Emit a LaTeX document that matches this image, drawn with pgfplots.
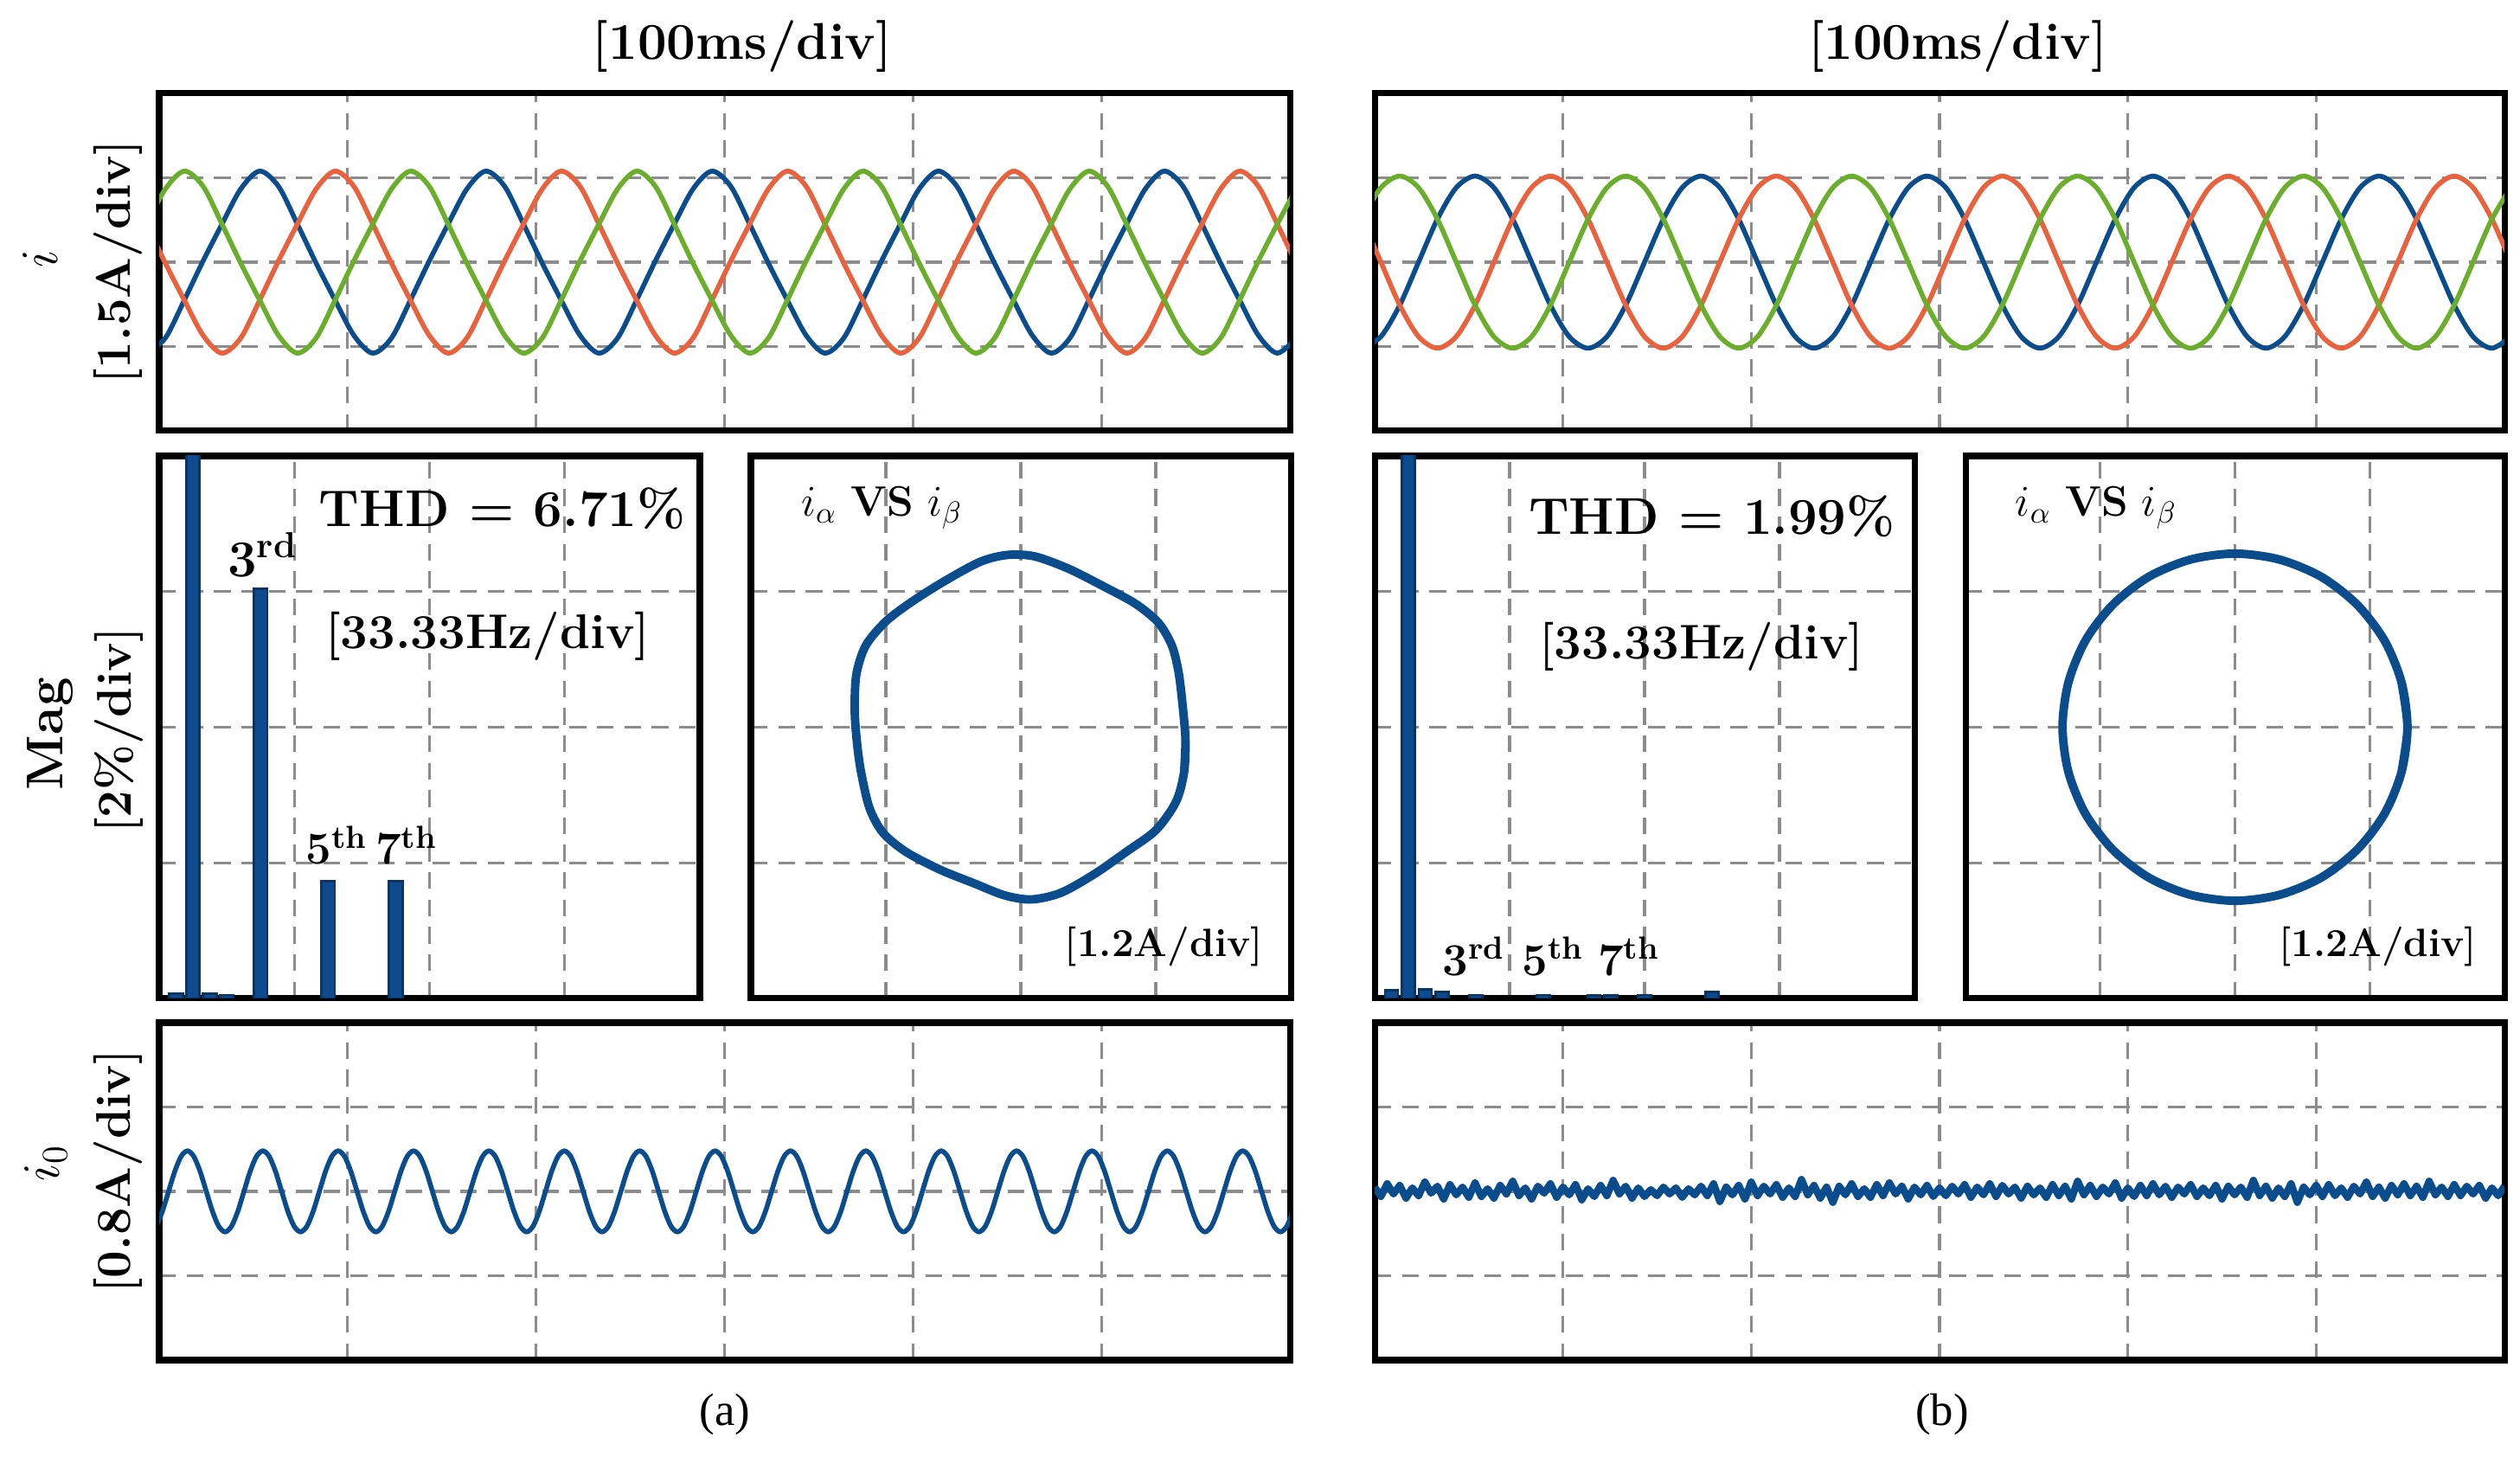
\documentclass[border=0pt]{standalone}
\usepackage{fontspec}
\usepackage{pgfplots}
\usepackage{pgfplotstable}
\pgfplotsset{compat=1.18}
\newfontfamily\capfont{Liberation Serif}

\definecolor{phb}{HTML}{0B4C8C}
\definecolor{pho}{HTML}{E9613D}
\definecolor{phg}{HTML}{6BAE2C}
\definecolor{barb}{HTML}{0D4A8E}

% phase currents, x in 1/30 div (100ms/div), y in div
\pgfplotstableread{
x g b o
-2 0.451 -1.079 0.451
1 0.869 -0.898 -0.015
4 1.079 -0.451 -0.451
7 0.898 0.015 -0.869
10 0.451 0.451 -1.079
13 -0.015 0.869 -0.898
16 -0.451 1.079 -0.451
19 -0.869 0.898 0.015
22 -1.079 0.451 0.451
25 -0.898 -0.015 0.869
28 -0.451 -0.451 1.079
31 0.015 -0.869 0.898
34 0.451 -1.079 0.451
37 0.869 -0.898 -0.015
40 1.079 -0.451 -0.451
43 0.898 0.015 -0.869
46 0.451 0.451 -1.079
49 -0.015 0.869 -0.898
52 -0.451 1.079 -0.451
55 -0.869 0.898 0.015
58 -1.079 0.451 0.451
61 -0.898 -0.015 0.869
64 -0.451 -0.451 1.079
67 0.015 -0.869 0.898
70 0.451 -1.079 0.451
73 0.869 -0.898 -0.015
76 1.079 -0.451 -0.451
79 0.898 0.015 -0.869
82 0.451 0.451 -1.079
85 -0.015 0.869 -0.898
88 -0.451 1.079 -0.451
91 -0.869 0.898 0.015
94 -1.079 0.451 0.451
97 -0.898 -0.015 0.869
100 -0.451 -0.451 1.079
103 0.015 -0.869 0.898
106 0.451 -1.079 0.451
109 0.869 -0.898 -0.015
112 1.079 -0.451 -0.451
115 0.898 0.015 -0.869
118 0.451 0.451 -1.079
121 -0.015 0.869 -0.898
124 -0.451 1.079 -0.451
127 -0.869 0.898 0.015
130 -1.079 0.451 0.451
133 -0.898 -0.015 0.869
136 -0.451 -0.451 1.079
139 0.015 -0.869 0.898
142 0.451 -1.079 0.451
145 0.869 -0.898 -0.015
148 1.079 -0.451 -0.451
151 0.898 0.015 -0.869
154 0.451 0.451 -1.079
157 -0.015 0.869 -0.898
160 -0.451 1.079 -0.451
163 -0.869 0.898 0.015
166 -1.079 0.451 0.451
169 -0.898 -0.015 0.869
172 -0.451 -0.451 1.079
175 0.015 -0.869 0.898
178 0.451 -1.079 0.451
181 0.869 -0.898 -0.015
}\phaseA

\pgfplotstableread{
x g b o
-2 0.51 -1.02 0.51
1 0.883 -0.883 0
4 1.02 -0.51 -0.51
7 0.883 0 -0.883
10 0.51 0.51 -1.02
13 0 0.883 -0.883
16 -0.51 1.02 -0.51
19 -0.883 0.883 0
22 -1.02 0.51 0.51
25 -0.883 0 0.883
28 -0.51 -0.51 1.02
31 0 -0.883 0.883
34 0.51 -1.02 0.51
37 0.883 -0.883 0
40 1.02 -0.51 -0.51
43 0.883 0 -0.883
46 0.51 0.51 -1.02
49 0 0.883 -0.883
52 -0.51 1.02 -0.51
55 -0.883 0.883 0
58 -1.02 0.51 0.51
61 -0.883 0 0.883
64 -0.51 -0.51 1.02
67 0 -0.883 0.883
70 0.51 -1.02 0.51
73 0.883 -0.883 0
76 1.02 -0.51 -0.51
79 0.883 0 -0.883
82 0.51 0.51 -1.02
85 0 0.883 -0.883
88 -0.51 1.02 -0.51
91 -0.883 0.883 0
94 -1.02 0.51 0.51
97 -0.883 0 0.883
100 -0.51 -0.51 1.02
103 0 -0.883 0.883
106 0.51 -1.02 0.51
109 0.883 -0.883 0
112 1.02 -0.51 -0.51
115 0.883 0 -0.883
118 0.51 0.51 -1.02
121 0 0.883 -0.883
124 -0.51 1.02 -0.51
127 -0.883 0.883 0
130 -1.02 0.51 0.51
133 -0.883 0 0.883
136 -0.51 -0.51 1.02
139 0 -0.883 0.883
142 0.51 -1.02 0.51
145 0.883 -0.883 0
148 1.02 -0.51 -0.51
151 0.883 0 -0.883
154 0.51 0.51 -1.02
157 0 0.883 -0.883
160 -0.51 1.02 -0.51
163 -0.883 0.883 0
166 -1.02 0.51 0.51
169 -0.883 0 0.883
172 -0.51 -0.51 1.02
175 0 -0.883 0.883
178 0.51 -1.02 0.51
181 0.883 -0.883 0
}\phaseB

\pgfplotsset{
  scopebox/.style={scale only axis, anchor=south west,
    axis line style={line width=2pt}, xticklabel=\empty, yticklabel=\empty,
    major tick length=0pt, grid=major,
    major grid style={black!45, line width=0.9pt, dash pattern=on 5.5pt off 3.5pt}},
  wave/.style={scopebox, width=13.07cm, height=3.90cm, xmin=0, xmax=180,
    ymin=-2, ymax=2, xtick={30,60,90,120,150}, ytick={-1,0,1}},
  fft/.style={scopebox, width=6.25cm, height=6.27cm, xmin=0, xmax=133.33,
    ymin=0, ymax=8, xtick={33.33,66.67,100}, ytick={2,4,6}},
  xy/.style={scopebox, width=6.24cm, height=6.27cm, xmin=-2, xmax=2,
    ymin=-2, ymax=2, xtick={-1,0,1}, ytick={-1,0,1}},
}

\newcommand\fbig{\bfseries\fontsize{17}{20}\selectfont}
\newcommand\fmid{\bfseries\fontsize{16}{19}\selectfont}
\newcommand\fsml{\bfseries\fontsize{15}{18}\selectfont}

\begin{document}
\begin{tikzpicture}
\path[use as bounding box] (0,0) rectangle (29.13,16.84);

% ---------- (a) phase currents
\begin{axis}[wave, at={(1.84cm,11.86cm)}]
\addplot[phb, line width=1.6pt, smooth] table[x=x, y=b] \phaseA;
\addplot[pho, line width=1.6pt, smooth] table[x=x, y=o] \phaseA;
\addplot[phg, line width=1.6pt, smooth] table[x=x, y=g] \phaseA;
\end{axis}

% ---------- (b) phase currents
\begin{axis}[wave, at={(15.89cm,11.86cm)}, width=13.06cm]
\addplot[phb, line width=1.6pt, smooth] table[x=x, y=b] \phaseB;
\addplot[pho, line width=1.6pt, smooth] table[x=x, y=o] \phaseB;
\addplot[phg, line width=1.6pt, smooth] table[x=x, y=g] \phaseB;
\end{axis}

% ---------- (a) spectrum
\begin{axis}[fft, at={(1.84cm,5.30cm)}]
\addplot[ybar, bar width=3.3, fill=barb, draw=barb!70!black, line width=0.8pt]
  coordinates {(4.17,0.07) (8.33,100) (12.5,0.07) (16.67,0.05) (25,6.04) (41.67,1.73) (58.33,1.73)};
\node at (axis cs:84.6,7.23) {\fbig THD = 6.71\%};
\node at (axis cs:81,5.34) {\fmid [33.33Hz/div]};
\node at (axis cs:25.5,6.54) {\fbig 3\textsuperscript{rd}};
\node at (axis cs:43.8,2.26) {\fsml 5\textsuperscript{th}};
\node at (axis cs:61.0,2.26) {\fsml 7\textsuperscript{th}};
\end{axis}

% ---------- (a) alpha-beta
\begin{axis}[xy, at={(8.68cm,5.30cm)}]
\addplot[phb, line width=2.8pt, smooth] coordinates {
(1.21,-0.33) (1.22,-0.09) (1.20,0.15) (1.17,0.40) (1.12,0.60) (1.02,0.77)
(0.85,0.91) (0.61,1.04) (0.35,1.17) (0.10,1.26) (-0.10,1.27) (-0.30,1.22)
(-0.56,1.08) (-0.80,0.93) (-1.00,0.78) (-1.15,0.60) (-1.22,0.38) (-1.23,0.10)
(-1.21,-0.15) (-1.18,-0.35) (-1.12,-0.60) (-1.02,-0.78) (-0.85,-0.92) (-0.60,-1.05)
(-0.35,-1.15) (-0.12,-1.24) (0.08,-1.27) (0.30,-1.22) (0.55,-1.08) (0.78,-0.92)
(1.00,-0.76) (1.15,-0.55) (1.21,-0.33) (1.22,-0.09) (1.20,0.15)};
\node at (axis cs:-1.03,1.62) {\fontsize{14}{16}\selectfont$i_\alpha$ \textbf{VS} $i_\beta$};
\node at (axis cs:1.06,-1.62) {\bfseries\fontsize{13}{15}\selectfont [1.2A/div]};
\end{axis}

% ---------- (b) spectrum
\begin{axis}[fft, at={(15.89cm,5.30cm)}, width=6.24cm]
\addplot[ybar, bar width=3.2, fill=barb, draw=barb!70!black, line width=0.8pt]
  coordinates {(4.17,0.12) (8.33,100) (12.5,0.13) (16.67,0.1) (25,0.05) (41.67,0.05)
  (54.17,0.04) (58.33,0.04) (66.67,0.05) (83.33,0.1)};
\node at (axis cs:83.3,7.11) {\fbig THD = 1.99\%};
\node at (axis cs:80.7,5.19) {\fmid [33.33Hz/div]};
\node at (axis cs:24.5,0.62) {\fsml 3\textsuperscript{rd}};
\node at (axis cs:44.1,0.62) {\fsml 5\textsuperscript{th}};
\node at (axis cs:62.8,0.62) {\fsml 7\textsuperscript{th}};
\end{axis}

% ---------- (b) alpha-beta
\begin{axis}[xy, at={(22.72cm,5.30cm)}, width=6.23cm]
\addplot[phb, line width=2.8pt, smooth] coordinates {
(1.236,-0.331) (1.28,0) (1.236,0.331) (1.109,0.64) (0.905,0.905) (0.64,1.109) (0.331,1.236)
(0,1.28) (-0.331,1.236) (-0.64,1.109) (-0.905,0.905) (-1.109,0.64) (-1.236,0.331)
(-1.28,0) (-1.236,-0.331) (-1.109,-0.64) (-0.905,-0.905) (-0.64,-1.109) (-0.331,-1.236)
(0,-1.28) (0.331,-1.236) (0.64,-1.109) (0.905,-0.905) (1.109,-0.64) (1.236,-0.331)
(1.28,0) (1.236,0.331)};
\node at (axis cs:-1.03,1.62) {\fontsize{14}{16}\selectfont$i_\alpha$ \textbf{VS} $i_\beta$};
\node at (axis cs:1.06,-1.62) {\bfseries\fontsize{13}{15}\selectfont [1.2A/div]};
\end{axis}

% ---------- (a) zero-sequence current
\begin{axis}[wave, at={(1.84cm,1.12cm)}]
\addplot[phb, line width=1.6pt, smooth] coordinates {
(-0.5,-0.416) (0.5,-0.24) (1.5,0) (2.5,0.24) (3.5,0.416) (4.5,0.48) (5.5,0.416) (6.5,0.24) (7.5,0) (8.5,-0.24) (9.5,-0.416) (10.5,-0.48)
(11.5,-0.416) (12.5,-0.24) (13.5,0) (14.5,0.24) (15.5,0.416) (16.5,0.48) (17.5,0.416) (18.5,0.24) (19.5,0) (20.5,-0.24) (21.5,-0.416) (22.5,-0.48)
(23.5,-0.416) (24.5,-0.24) (25.5,0) (26.5,0.24) (27.5,0.416) (28.5,0.48) (29.5,0.416) (30.5,0.24) (31.5,0) (32.5,-0.24) (33.5,-0.416) (34.5,-0.48)
(35.5,-0.416) (36.5,-0.24) (37.5,0) (38.5,0.24) (39.5,0.416) (40.5,0.48) (41.5,0.416) (42.5,0.24) (43.5,0) (44.5,-0.24) (45.5,-0.416) (46.5,-0.48)
(47.5,-0.416) (48.5,-0.24) (49.5,0) (50.5,0.24) (51.5,0.416) (52.5,0.48) (53.5,0.416) (54.5,0.24) (55.5,0) (56.5,-0.24) (57.5,-0.416) (58.5,-0.48)
(59.5,-0.416) (60.5,-0.24) (61.5,0) (62.5,0.24) (63.5,0.416) (64.5,0.48) (65.5,0.416) (66.5,0.24) (67.5,0) (68.5,-0.24) (69.5,-0.416) (70.5,-0.48)
(71.5,-0.416) (72.5,-0.24) (73.5,0) (74.5,0.24) (75.5,0.416) (76.5,0.48) (77.5,0.416) (78.5,0.24) (79.5,0) (80.5,-0.24) (81.5,-0.416) (82.5,-0.48)
(83.5,-0.416) (84.5,-0.24) (85.5,0) (86.5,0.24) (87.5,0.416) (88.5,0.48) (89.5,0.416) (90.5,0.24) (91.5,0) (92.5,-0.24) (93.5,-0.416) (94.5,-0.48)
(95.5,-0.416) (96.5,-0.24) (97.5,0) (98.5,0.24) (99.5,0.416) (100.5,0.48) (101.5,0.416) (102.5,0.24) (103.5,0) (104.5,-0.24) (105.5,-0.416) (106.5,-0.48)
(107.5,-0.416) (108.5,-0.24) (109.5,0) (110.5,0.24) (111.5,0.416) (112.5,0.48) (113.5,0.416) (114.5,0.24) (115.5,0) (116.5,-0.24) (117.5,-0.416) (118.5,-0.48)
(119.5,-0.416) (120.5,-0.24) (121.5,0) (122.5,0.24) (123.5,0.416) (124.5,0.48) (125.5,0.416) (126.5,0.24) (127.5,0) (128.5,-0.24) (129.5,-0.416) (130.5,-0.48)
(131.5,-0.416) (132.5,-0.24) (133.5,0) (134.5,0.24) (135.5,0.416) (136.5,0.48) (137.5,0.416) (138.5,0.24) (139.5,0) (140.5,-0.24) (141.5,-0.416) (142.5,-0.48)
(143.5,-0.416) (144.5,-0.24) (145.5,0) (146.5,0.24) (147.5,0.416) (148.5,0.48) (149.5,0.416) (150.5,0.24) (151.5,0) (152.5,-0.24) (153.5,-0.416) (154.5,-0.48)
(155.5,-0.416) (156.5,-0.24) (157.5,0) (158.5,0.24) (159.5,0.416) (160.5,0.48) (161.5,0.416) (162.5,0.24) (163.5,0) (164.5,-0.24) (165.5,-0.416) (166.5,-0.48)
(167.5,-0.416) (168.5,-0.24) (169.5,0) (170.5,0.24) (171.5,0.416) (172.5,0.48) (173.5,0.416) (174.5,0.24) (175.5,0) (176.5,-0.24) (177.5,-0.416) (178.5,-0.48)
(179.5,-0.416) (180.5,-0.24)};
\end{axis}

% ---------- (b) zero-sequence current (noise)
\begin{axis}[wave, at={(15.89cm,1.12cm)}, width=13.06cm]
\addplot[phb, line width=2.4pt, line join=round] coordinates {
(0,0.05) (1,-0.06) (2,0.09) (3,-0.03) (4,0.07) (5,-0.08) (6,0.04) (7,-0.05) (8,0.11) (9,-0.02)
(10,0.06) (11,-0.09) (12,0.08) (13,-0.04) (14,0.05) (15,-0.07) (16,0.10) (17,-0.06) (18,0.03) (19,-0.08)
(20,0.07) (21,-0.03) (22,0.12) (23,-0.05) (24,0.04) (25,-0.09) (26,0.06) (27,-0.02) (28,0.09) (29,-0.07)
(30,0.05) (31,-0.04) (32,0.08) (33,-0.10) (34,0.03) (35,-0.06) (36,0.07) (37,-0.05) (38,0.13) (39,-0.03)
(40,0.06) (41,-0.08) (42,0.04) (43,-0.06) (44,0.02) (45,-0.05) (46,0.05) (47,-0.03) (48,0.04) (49,-0.07)
(50,0.03) (51,-0.04) (52,0.06) (53,-0.05) (54,0.09) (55,-0.12) (56,0.05) (57,-0.04) (58,0.07) (59,-0.09)
(60,0.11) (61,-0.05) (62,0.06) (63,-0.03) (64,0.08) (65,-0.07) (66,0.04) (67,-0.06) (68,0.14) (69,-0.04)
(70,0.07) (71,-0.08) (72,0.05) (73,-0.13) (74,0.06) (75,-0.04) (76,0.09) (77,-0.06) (78,0.03) (79,-0.07)
(80,0.08) (81,-0.05) (82,0.10) (83,-0.03) (84,0.06) (85,-0.09) (86,0.05) (87,-0.04) (88,0.07) (89,-0.06)
(90,0.04) (91,-0.05) (92,0.06) (93,-0.03) (94,0.08) (95,-0.07) (96,0.05) (97,-0.04) (98,0.09) (99,-0.06)
(100,0.07) (101,-0.03) (102,0.05) (103,-0.08) (104,0.06) (105,-0.04) (106,0.04) (107,-0.07) (108,0.08) (109,-0.05)
(110,0.06) (111,-0.09) (112,0.12) (113,-0.04) (114,0.07) (115,-0.06) (116,0.05) (117,-0.03) (118,0.10) (119,-0.08)
(120,0.04) (121,-0.06) (122,0.07) (123,-0.05) (124,0.09) (125,-0.04) (126,0.06) (127,-0.07) (128,0.05) (129,-0.03)
(130,0.08) (131,-0.06) (132,0.04) (133,-0.05) (134,0.07) (135,-0.09) (136,0.06) (137,-0.04) (138,0.05) (139,-0.07)
(140,0.13) (141,-0.05) (142,0.06) (143,-0.08) (144,0.04) (145,-0.06) (146,0.09) (147,-0.13) (148,0.05) (149,-0.04)
(150,0.07) (151,-0.06) (152,0.08) (153,-0.05) (154,0.04) (155,-0.07) (156,0.06) (157,-0.03) (158,0.11) (159,-0.06)
(160,0.05) (161,-0.08) (162,0.07) (163,-0.04) (164,0.09) (165,-0.05) (166,0.06) (167,-0.07) (168,0.12) (169,-0.04)
(170,0.05) (171,-0.06) (172,0.08) (173,-0.05) (174,0.06) (175,-0.03) (176,0.07) (177,-0.08) (178,0.04) (179,-0.05)
(180,0.06)};
\end{axis}

% ---------- titles, axis labels, captions
\node at (8.58,16.30) {\fbig [100ms/div]};
\node at (22.63,16.30) {\fbig [100ms/div]};

\node[rotate=90] at (0.47,13.85) {\fontsize{18}{20}\selectfont$i$};
\node[rotate=90] at (1.36,13.81) {\fmid [1.5A/div]};
\node[rotate=90] at (0.58,8.36) {\fbig Mag};
\node[rotate=90] at (1.37,8.40) {\fmid [2\%/div]};
\node[rotate=90] at (0.53,3.40) {\fontsize{18}{20}\selectfont$i_0$};
\node[rotate=90] at (1.36,3.30) {\fmid [0.8A/div]};

\node at (8.38,0.49) {\capfont\fontsize{15}{17}\selectfont (a)};
\node at (22.45,0.49) {\capfont\fontsize{15}{17}\selectfont (b)};
\end{tikzpicture}
\end{document}
